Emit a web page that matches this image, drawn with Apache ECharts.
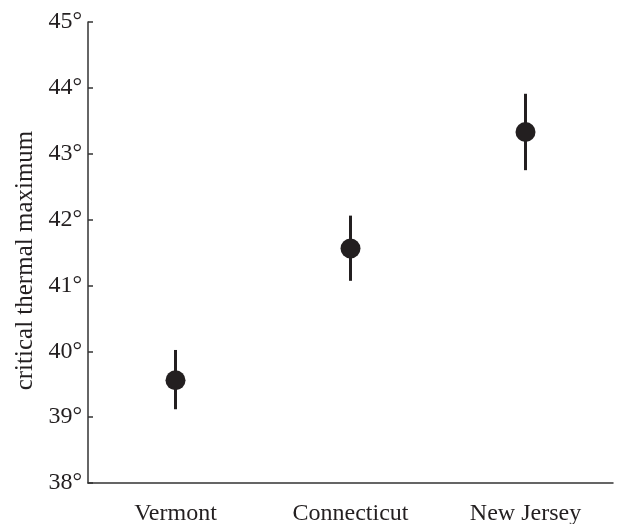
<!DOCTYPE html>
<html>
  <head>
    <meta charset="utf-8" />
    <title>critical thermal maximum</title>
    <style>
      html, body { margin: 0; padding: 0; background: #fff; }
      #chart { width: 620px; height: 524px; }
    </style>
  </head>
  <body>
    <div id="chart"></div>
    <script src="https://cdn.jsdelivr.net/npm/echarts@6/dist/echarts.min.js"></script>
    <script>
      const states = ["Vermont", "Connecticut", "New Jersey"];
      const means = [39.56, 41.56, 43.33];
      const lower = [39.12, 41.07, 42.75];
      const upper = [40.02, 42.06, 43.91];
      const ink = "#231f20";
      const font = "'Liberation Serif', 'Times New Roman', Times, serif";

      const chart = echarts.init(document.getElementById("chart"));

      chart.setOption({
        animation: false,
        grid: { left: 88, right: 7, top: 22, bottom: 41, outerBoundsMode: "none", containLabel: false },
        xAxis: {
          type: "category",
          data: states,
          axisLine: { lineStyle: { color: "#333", width: 1.5 } },
          axisTick: { inside: true, length: 5, lineStyle: { color: "#333", width: 1.5 } },
          axisLabel: { color: ink, fontFamily: font, fontSize: 24, margin: 19 },
          splitLine: { show: false }
        },
        yAxis: {
          type: "value",
          min: 38,
          max: 45,
          interval: 1,
          name: "critical thermal maximum",
          nameLocation: "middle",
          nameGap: 50,
          nameTextStyle: { color: ink, fontFamily: font, fontSize: 25, padding: [0, 16, 0, 0] },
          axisLine: { show: true, lineStyle: { color: "#333", width: 1.5 } },
          axisTick: { show: true, inside: true, length: 5, lineStyle: { color: "#333", width: 1.5 } },
          axisLabel: {
            color: ink,
            fontFamily: font,
            fontSize: 24,
            margin: 6,
            formatter: (v) => v + "°"
          },
          splitLine: { show: false }
        },
        series: [
          {
            type: "custom",
            data: states.map((s, i) => [i, lower[i], upper[i]]),
            renderItem: function (params, api) {
              const lo = api.coord([api.value(0), api.value(1)]);
              const hi = api.coord([api.value(0), api.value(2)]);
              return {
                type: "line",
                shape: { x1: lo[0], y1: lo[1], x2: hi[0], y2: hi[1] },
                style: { stroke: ink, lineWidth: 3 }
              };
            },
            z: 1
          },
          {
            type: "scatter",
            data: means,
            symbol: "circle",
            symbolSize: 20,
            itemStyle: { color: ink, opacity: 1 },
            z: 2
          }
        ]
      });
    </script>
  </body>
</html>
